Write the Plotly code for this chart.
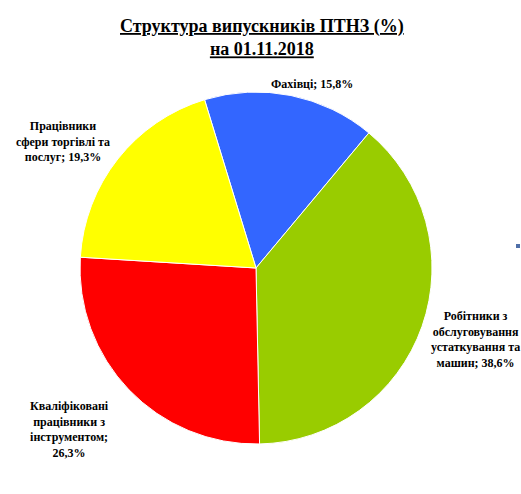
"""Pie chart: structure of vocational school graduates"""
import plotly.graph_objects as go

categories = [
    'Фахівці',
    'Робітники з обслуговування устаткування та машин',
    'Кваліфіковані працівники з інструментом',
    'Працівники сфери торгівлі та послуг',
]
shares = [15.8, 38.6, 26.3, 19.3]
colors = ['#3366FF', '#99CC00', '#FF0000', '#FFFF00']

# label text as shown on the chart (manual line breaks)
label_text = [
    'Фахівці; 15,8%',
    'Робітники з<br>обслуговування<br>устаткування та<br>машин; 38,6%',
    'Кваліфіковані<br>працівники з<br>інструментом;<br>26,3%',
    'Працівники<br>сфери торгівлі та<br>послуг; 19,3%',
]
# label centres in screen pixels
label_px = [(312, 84), (475, 339), (69, 429), (63, 141)]

W, H = 521, 494


def to_paper(x, y):
    return x / W, 1 - y / H


serif = 'Liberation Serif'

fig = go.Figure(go.Pie(
    labels=categories,
    values=shares,
    sort=False,
    direction='clockwise',
    rotation=-17,
    marker=dict(colors=colors, line=dict(color='white', width=1)),
    textinfo='none',
    hoverinfo='label+percent',
    domain=dict(x=[to_paper(80, 0)[0], to_paper(432, 0)[0]],
                y=[to_paper(0, 444)[1], to_paper(0, 92)[1]]),
    showlegend=False,
))

for txt, (x, y) in zip(label_text, label_px):
    px, py = to_paper(x, y)
    fig.add_annotation(x=px, y=py, xref='paper', yref='paper', text='<b>' + txt + '</b>',
                       xanchor='center', yanchor='middle', showarrow=False,
                       font=dict(family=serif, size=12, color='black'), align='center')

tx, ty = to_paper(262, 38)
fig.add_annotation(
    x=tx, y=ty, xref='paper', yref='paper', showarrow=False,
    xanchor='center', yanchor='middle',
    text='<b><u>Структура випускників ПТНЗ (%)</u></b><br><b><u>на 01.11.2018</u></b>',
    font=dict(family=serif, size=18, color='black'),
    align='center',
)

# small legend marker leftover at right edge
x0, y0 = to_paper(516, 248)
x1, y1 = to_paper(520, 244)
fig.add_shape(type='rect', xref='paper', yref='paper', x0=x0, x1=x1, y0=y0, y1=y1,
              fillcolor='#4F6FA8', line=dict(width=0))

fig.update_layout(
    width=W,
    height=H,
    margin=dict(l=0, r=0, t=0, b=0),
    paper_bgcolor='white',
    plot_bgcolor='white',
)

# drop the default 8px body margin so the figure fills the window
fig.write_html('out.html', config={'displayModeBar': False},
               post_script="document.body.style.margin = '0';")
